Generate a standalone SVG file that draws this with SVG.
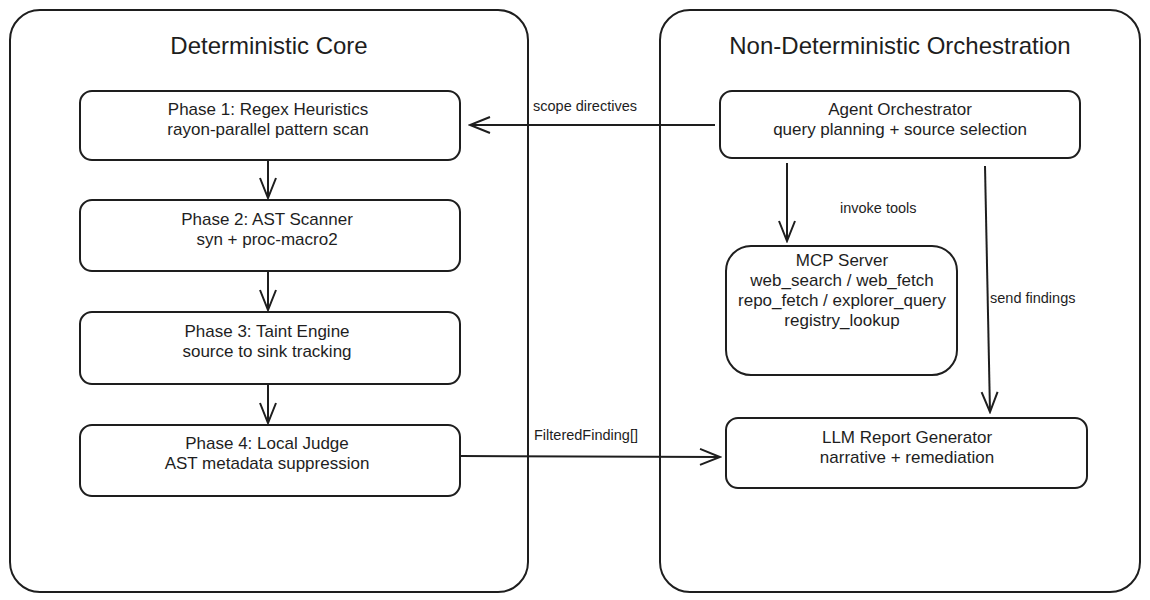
<svg xmlns="http://www.w3.org/2000/svg" width="1150" height="600" viewBox="0 0 1150 600">
<style>
.box{fill:#ffffff;stroke:#1e1e1e;stroke-width:2}
.t{font-family:"Liberation Sans",Arial,sans-serif;font-size:17px;fill:#1e1e1e;text-anchor:middle}
.title{font-family:"Liberation Sans",Arial,sans-serif;font-size:24px;fill:#1e1e1e;text-anchor:middle}
.lbl{font-family:"Liberation Sans",Arial,sans-serif;font-size:14.5px;fill:#1e1e1e}
.c{fill:none;stroke:#1e1e1e;stroke-width:2}
</style>
<defs>
<marker id="ah" viewBox="0 0 24 24" refX="22" refY="12" markerWidth="24" markerHeight="24" markerUnits="userSpaceOnUse" orient="auto">
<path d="M2,4 L22,12 L2,20" fill="none" stroke="#1e1e1e" stroke-width="2"/>
</marker>
</defs>
<rect width="1150" height="600" fill="#ffffff"/>
<g id="deterministic-core">
<rect class="box" x="10" y="10" width="518" height="582" rx="30"/>
<text class="title" x="269" y="54">Deterministic Core</text>
</g>
<g id="non-deterministic-orchestration">
<rect class="box" x="660" y="10" width="480" height="582" rx="30"/>
<text class="title" x="900" y="54">Non-Deterministic Orchestration</text>
</g>
<g id="connectors">
<path class="c" d="M715,125 L470,125" marker-end="url(#ah)"/>
<path class="c" d="M268,161 L268,198" marker-end="url(#ah)"/>
<path class="c" d="M268,272 L268,310" marker-end="url(#ah)"/>
<path class="c" d="M268,385 L268,423" marker-end="url(#ah)"/>
<path class="c" d="M787,163 L787,241" marker-end="url(#ah)"/>
<path class="c" d="M985,166 L990,412" marker-end="url(#ah)"/>
<path class="c" d="M461,456 L720,457" marker-end="url(#ah)"/>
<text class="lbl" x="533" y="111">scope directives</text>
<text class="lbl" x="840" y="213">invoke tools</text>
<text class="lbl" x="990" y="303">send findings</text>
<text class="lbl" x="534" y="440">FilteredFinding[]</text>
</g>
<g id="phase1">
<rect class="box" x="80" y="91" width="380" height="69" rx="12"/>
<text class="t" x="268" y="115">Phase 1: Regex Heuristics</text>
<text class="t" x="268" y="135">rayon-parallel pattern scan</text>
</g>
<g id="phase2">
<rect class="box" x="80" y="200" width="380" height="71" rx="12"/>
<text class="t" x="267" y="225">Phase 2: AST Scanner</text>
<text class="t" x="267" y="245">syn + proc-macro2</text>
</g>
<g id="phase3">
<rect class="box" x="80" y="312" width="380" height="72" rx="12"/>
<text class="t" x="267" y="337">Phase 3: Taint Engine</text>
<text class="t" x="267" y="357">source to sink tracking</text>
</g>
<g id="phase4">
<rect class="box" x="80" y="425" width="380" height="71" rx="12"/>
<text class="t" x="267" y="449">Phase 4: Local Judge</text>
<text class="t" x="267" y="469">AST metadata suppression</text>
</g>
<g id="agent-orchestrator">
<rect class="box" x="720" y="91" width="360" height="67" rx="12"/>
<text class="t" x="900" y="115">Agent Orchestrator</text>
<text class="t" x="900" y="135">query planning + source selection</text>
</g>
<g id="mcp-server">
<rect class="box" x="726" y="246" width="231" height="129" rx="25"/>
<text class="t" x="842" y="266">MCP Server</text>
<text class="t" x="842" y="286">web_search / web_fetch</text>
<text class="t" x="842" y="306">repo_fetch / explorer_query</text>
<text class="t" x="842" y="326">registry_lookup</text>
</g>
<g id="llm-report-generator">
<rect class="box" x="726" y="418" width="361" height="70" rx="12"/>
<text class="t" x="907" y="443">LLM Report Generator</text>
<text class="t" x="907" y="463">narrative + remediation</text>
</g>
</svg>
